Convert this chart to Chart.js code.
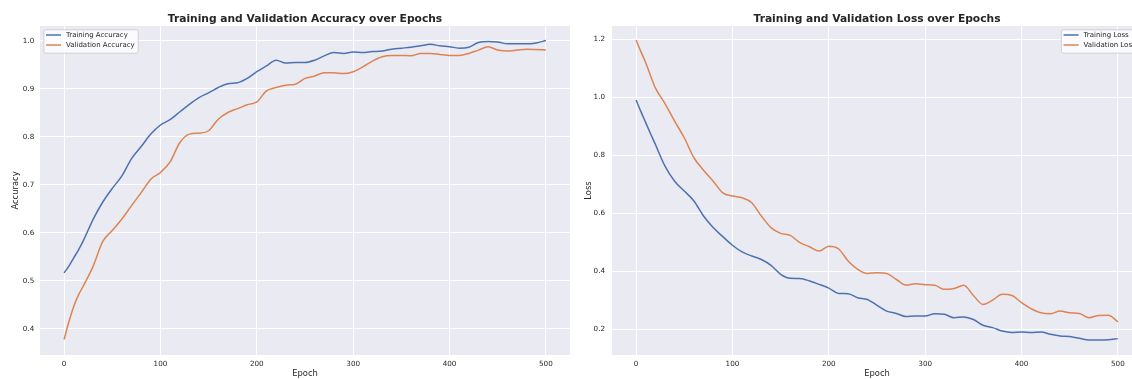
<!DOCTYPE html>
<html><head><meta charset="utf-8">
<script src="https://cdn.jsdelivr.net/npm/chart.js@4.4.1/dist/chart.umd.min.js"></script>
<style>
html,body{margin:0;padding:0;background:#fff;overflow:hidden;width:1132px;height:379px;}
#c1{position:absolute;left:0;top:0;}
#c2{position:absolute;left:572px;top:0;}
</style></head><body>
<canvas id="c1" width="575" height="379"></canvas>
<canvas id="c2" width="580" height="379"></canvas>
<script>
const epochs = [0,5,10,15,20,30,40,50,60,70,80,90,100,110,120,130,140,150,160,170,180,190,200,210,220,230,240,250,260,270,280,290,300,310,320,330,340,350,360,370,380,390,400,410,420,430,440,450,460,470,480,490,500];

const trainAcc = [0.517,0.531,0.548,0.565,0.584,0.628,0.664,0.693,0.719,0.755,0.780,0.806,0.825,0.836,0.852,0.868,0.882,0.892,0.903,0.911,0.913,0.922,0.936,0.948,0.960,0.954,0.955,0.955,0.960,0.969,0.976,0.974,0.977,0.976,0.978,0.979,0.983,0.985,0.987,0.990,0.993,0.990,0.988,0.985,0.987,0.997,0.999,0.998,0.994,0.994,0.994,0.996,1.001];
const valAcc = [0.378,0.415,0.447,0.471,0.490,0.530,0.582,0.605,0.629,0.657,0.684,0.712,0.726,0.748,0.788,0.806,0.808,0.813,0.837,0.851,0.859,0.867,0.873,0.896,0.903,0.908,0.910,0.922,0.927,0.934,0.934,0.932,0.936,0.946,0.958,0.967,0.970,0.970,0.969,0.974,0.974,0.972,0.970,0.970,0.974,0.981,0.988,0.981,0.979,0.981,0.983,0.982,0.981];
const trainLoss = [0.991,0.951,0.913,0.875,0.838,0.763,0.711,0.677,0.643,0.591,0.551,0.520,0.490,0.467,0.453,0.441,0.421,0.390,0.376,0.375,0.367,0.355,0.342,0.324,0.323,0.309,0.303,0.283,0.263,0.255,0.244,0.246,0.246,0.254,0.252,0.240,0.243,0.234,0.214,0.206,0.194,0.189,0.191,0.189,0.191,0.183,0.177,0.175,0.169,0.163,0.163,0.164,0.168];
const valLoss = [1.198,1.158,1.120,1.075,1.033,0.979,0.918,0.861,0.792,0.749,0.711,0.671,0.660,0.654,0.637,0.591,0.551,0.531,0.524,0.499,0.485,0.470,0.487,0.478,0.436,0.407,0.393,0.395,0.393,0.372,0.353,0.357,0.354,0.352,0.338,0.341,0.352,0.317,0.286,0.301,0.321,0.317,0.292,0.271,0.257,0.254,0.263,0.257,0.255,0.240,0.248,0.249,0.226];

const xTicks = [0,100,200,300,400,500];
const accTicks = [0.4,0.5,0.6,0.7,0.8,0.9,1.0];
const lossTicks = [0.2,0.4,0.6,0.8,1.0,1.2];

const BLUE = '#4C72B0', ORANGE = '#DD8452', TXT = '#262626', FONT = "'DejaVu Sans', sans-serif";

const bgPlugin = {
  id: 'bg',
  beforeDraw(chart) {
    const {ctx, chartArea: a} = chart;
    ctx.save();
    ctx.fillStyle = '#EAEAF2';
    ctx.fillRect(a.left, a.top, a.right - a.left, a.bottom - a.top);
    ctx.restore();
  }
};

const decoPlugin = {
  id: 'deco',
  afterDraw(chart, args, opts) {
    const {ctx, chartArea: a} = chart;
    ctx.save();
    ctx.fillStyle = TXT;
    ctx.font = "bold 10.7px " + FONT;
    ctx.textAlign = 'center';
    ctx.textBaseline = 'middle';
    ctx.fillText(opts.title, (a.left + a.right) / 2, 19);
    ctx.font = "7px " + FONT;
    const ds = chart.data.datasets;
    let maxW = 0;
    ds.forEach(d => { maxW = Math.max(maxW, ctx.measureText(d.label).width); });
    const w = 22.7 + maxW + 3;
    const h = 23.4;
    const x0 = opts.side === 'left' ? a.left + 3.3 : a.right - 3.3 - w;
    const y0 = a.top + 3.3;
    ctx.beginPath();
    if (ctx.roundRect) ctx.roundRect(x0 + 0.5, y0 + 0.5, w, h, 2); else ctx.rect(x0 + 0.5, y0 + 0.5, w, h);
    ctx.fillStyle = 'rgba(255,255,255,0.8)';
    ctx.fill();
    ctx.strokeStyle = '#d0d0d4';
    ctx.lineWidth = 1;
    ctx.stroke();
    ds.forEach((d, i) => {
      const yy = y0 + 5.7 + i * 10;
      ctx.beginPath();
      ctx.moveTo(x0 + 2.7, yy);
      ctx.lineTo(x0 + 17.7, yy);
      ctx.strokeStyle = d.borderColor;
      ctx.lineWidth = 1.5;
      ctx.stroke();
      ctx.fillStyle = TXT;
      ctx.textAlign = 'left';
      ctx.textBaseline = 'middle';
      ctx.fillText(d.label, x0 + 22.7, yy + 0.3);
    });
    ctx.restore();
  }
};

function pts(arr) { return epochs.map((e, i) => ({x: e, y: arr[i]})); }

function makeChart(id, opt) {
  const line = {borderWidth: 1.5, pointRadius: 0, cubicInterpolationMode: 'monotone'};
  return new Chart(document.getElementById(id), {
    type: 'line',
    data: {
      datasets: [
        Object.assign({label: opt.labels[0], data: pts(opt.series[0]), borderColor: BLUE, backgroundColor: BLUE, order: 1}, line),
        Object.assign({label: opt.labels[1], data: pts(opt.series[1]), borderColor: ORANGE, backgroundColor: ORANGE, order: 0}, line)
      ]
    },
    options: {
      responsive: false,
      animation: false,
      events: [],
      layout: {padding: {left: 0, right: opt.padRight, top: 26, bottom: 0}},
      plugins: {
        legend: {display: false},
        tooltip: {enabled: false},
        deco: {title: opt.title, side: opt.side}
      },
      scales: {
        x: {
          type: 'linear', min: -25, max: 525,
          afterBuildTicks: s => { s.ticks = xTicks.map(v => ({value: v})); },
          afterFit: s => { s.height = 24; },
          ticks: {font: {family: FONT, size: 7.2}, color: TXT, padding: 4.6, maxRotation: 0, autoSkip: false, callback: v => String(v)},
          grid: {color: '#ffffff', lineWidth: 1, drawTicks: false},
          border: {display: false},
          title: {display: true, text: 'Epoch', font: {family: FONT, size: 8.4}, color: TXT, padding: {top: 0, bottom: 0}}
        },
        y: {
          type: 'linear', min: opt.yMin, max: opt.yMax,
          afterBuildTicks: s => { s.ticks = opt.yTicks.map(v => ({value: v})); },
          afterFit: s => { s.width = 40; },
          ticks: {font: {family: FONT, size: 7.2}, color: TXT, padding: opt.tickPad, autoSkip: false, callback: v => v.toFixed(1)},
          grid: {color: '#ffffff', lineWidth: 1, drawTicks: false},
          border: {display: false},
          title: {display: true, text: opt.yTitle, font: {family: FONT, size: 8.4}, color: TXT, padding: {top: opt.titlePad, bottom: 0}}
        }
      }
    },
    plugins: [bgPlugin, decoPlugin]
  });
}

makeChart('c1', {
  labels: ['Training Accuracy', 'Validation Accuracy'],
  series: [trainAcc, valAcc],
  title: 'Training and Validation Accuracy over Epochs',
  side: 'left', padRight: 5,
  yMin: 0.3458, yMax: 1.0312, yTicks: accTicks,
  yTitle: 'Accuracy', tickPad: 5.7, titlePad: 11
});

makeChart('c2', {
  labels: ['Training Loss', 'Validation Loss'],
  series: [trainLoss, valLoss],
  title: 'Training and Validation Loss over Epochs',
  side: 'right', padRight: 10,
  yMin: 0.1115, yMax: 1.2465, yTicks: lossTicks,
  yTitle: 'Loss', tickPad: 7, titlePad: 12
});
</script>
</body></html>
